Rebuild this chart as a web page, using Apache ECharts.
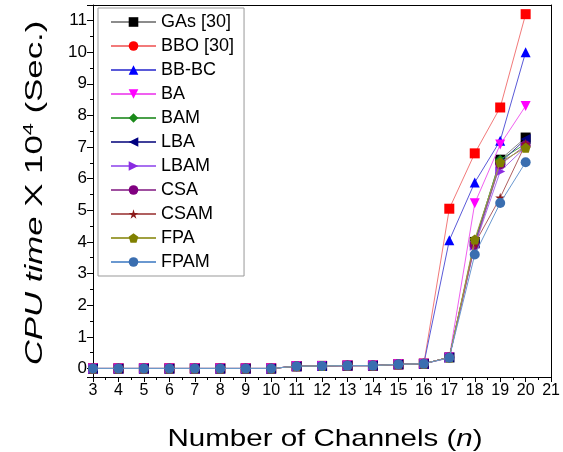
<!DOCTYPE html>
<html><head><meta charset="utf-8">
<script src="https://cdn.jsdelivr.net/npm/echarts@6/dist/echarts.min.js"></script>
<style>html,body{margin:0;padding:0;background:#fff}#c{width:563px;height:452px}</style>
</head><body><div id="c"></div>
<script>
const channels = [3,4,5,6,7,8,9,10,11,12,13,14,15,16,17,18,19,20];
const seriesNames = ['GAs [30]','BBO [30]','BB-BC','BA','BAM','LBA','LBAM','CSA','CSAM','FPA','FPAM'];
const GAs  = [0,0,0,0,0,0,0,0,0.07,0.08,0.09,0.09,0.13,0.15,0.35,4.00,6.60,7.30];
const BBO  = [0,0,0,0,0,0,0,0,0.07,0.08,0.09,0.09,0.13,0.15,5.05,6.80,8.25,11.20];
const BBBC = [0,0,0,0,0,0,0,0,0.07,0.08,0.09,0.09,0.13,0.15,4.05,5.88,7.20,10.00];
const BA   = [0,0,0,0,0,0,0,0,0.07,0.08,0.09,0.09,0.13,0.15,0.35,5.22,7.08,8.30];
const BAM  = [0,0,0,0,0,0,0,0,0.07,0.08,0.09,0.09,0.13,0.15,0.35,4.00,6.60,7.10];
const LBA  = [0,0,0,0,0,0,0,0,0.07,0.08,0.09,0.09,0.13,0.15,0.35,3.95,6.50,7.25];
const LBAM = [0,0,0,0,0,0,0,0,0.07,0.08,0.09,0.09,0.13,0.15,0.33,3.88,6.23,7.00];
const CSA  = [0,0,0,0,0,0,0,0,0.07,0.08,0.09,0.09,0.13,0.15,0.35,3.90,6.45,7.05];
const CSAM = [0,0,0,0,0,0,0,0,0.07,0.08,0.09,0.09,0.13,0.15,0.35,3.95,5.40,7.10];
const FPA  = [0,0,0,0,0,0,0,0,0.07,0.08,0.09,0.09,0.13,0.15,0.35,4.08,6.52,6.98];
const FPAM = [0,0,0,0,0,0,0,0,0.07,0.08,0.09,0.09,0.13,0.15,0.34,3.60,5.23,6.52];
const xTicks = [3,21];
const yRange = [-0.27, 11.49];

const STAR = 'path://M50,0 L61,35 L98,35 L68,57 L79,91 L50,70 L21,91 L32,57 L2,35 L39,35 Z';
const PENT = 'path://M50,0 L98,36 L80,95 L20,95 L2,36 Z';
const FONT = 'Liberation Sans, Arial, sans-serif';

const styles = [
  {sym:'rect', rot:0, c:'#000000', l:'#8c8c8c'},
  {sym:'circle', rot:0, c:'#ff0000', l:'#f27a7a', itemSym:'rect'},
  {sym:'triangle', rot:0, c:'#0000ff', l:'#5a5ad8'},
  {sym:'triangle', rot:180, c:'#ff00ff', l:'#f060f0'},
  {sym:'diamond', rot:0, c:'#1a8a1a', l:'#4aa04a'},
  {sym:'triangle', rot:90, c:'#000080', l:'#40409a'},
  {sym:'triangle', rot:-90, c:'#8a2be2', l:'#a870f0'},
  {sym:'circle', rot:0, c:'#800080', l:'#a050a0'},
  {sym:STAR, rot:0, c:'#8b1a1a', l:'#b06060'},
  {sym:PENT, rot:0, c:'#808000', l:'#a0a040'},
  {sym:'circle', rot:0, c:'#3a6eb0', l:'#6a98d0'}
];
const allData = [GAs,BBO,BBBC,BA,BAM,LBA,LBAM,CSA,CSAM,FPA,FPAM];

const series = seriesNames.map((name, i) => {
  const s = styles[i];
  return {
    name: name,
    type: 'line',
    symbol: s.sym,
    symbolRotate: s.rot,
    symbolSize: 10,
    showAllSymbol: true,
    z: 2 + i,
    itemStyle: {color: s.c},
    lineStyle: {color: s.l, width: 1},
    emphasis: {disabled: true},
    data: channels.map((x, k) => s.itemSym ? {value: [x, allData[i][k]], symbol: s.itemSym} : [x, allData[i][k]])
  };
});

const chart = echarts.init(document.getElementById('c'), null, {renderer: 'canvas'});
chart.setOption({
  animation: false,
  backgroundColor: '#fff',
  grid: {left: 93, right: 9, top: 5, bottom: 75, containLabel: false},
  xAxis: [{
    type: 'value', min: xTicks[0], max: xTicks[1], interval: 1,
    axisLine: {show: true, onZero: false, lineStyle: {color: '#000', width: 1}},
    axisTick: {show: true, length: 5, lineStyle: {color: '#000'}},
    minorTick: {show: true, splitNumber: 2, length: 3, lineStyle: {color: '#000'}},
    splitLine: {show: false},
    axisLabel: {color: '#000', fontSize: 16, margin: 6, fontFamily: FONT}
  }, {
    type: 'value', position: 'top', min: xTicks[0], max: xTicks[1],
    axisLine: {show: true, onZero: false, lineStyle: {color: '#000', width: 1}},
    axisTick: {show: false}, axisLabel: {show: false}, splitLine: {show: false}
  }],
  yAxis: [{
    type: 'value', min: yRange[0], max: yRange[1], minInterval: 1, maxInterval: 1,
    axisLine: {show: true, onZero: false, lineStyle: {color: '#000', width: 1}},
    axisTick: {show: true, length: 6, lineStyle: {color: '#000'}},
    minorTick: {show: true, splitNumber: 2, length: 3, lineStyle: {color: '#000'}},
    splitLine: {show: false},
    axisLabel: {color: '#000', fontSize: 17, margin: 6, fontFamily: FONT,
      formatter: v => Math.abs(v - Math.round(v)) < 1e-6 ? String(Math.round(v)) : ''}
  }, {
    type: 'value', position: 'right', min: yRange[0], max: yRange[1],
    axisLine: {show: true, onZero: false, lineStyle: {color: '#000', width: 1}},
    axisTick: {show: false}, axisLabel: {show: false}, splitLine: {show: false}
  }],
  legend: {
    orient: 'vertical', left: 98, top: 8,
    itemWidth: 45, itemHeight: 12, itemGap: 6,
    padding: [5, 10, 5, 12],
    borderColor: '#999', borderWidth: 1,
    textStyle: {fontSize: 18, color: '#000', lineHeight: 18, fontFamily: FONT},
    data: seriesNames
  },
  graphic: [
    {type: 'text', x: 325, y: 439, scaleX: 1.23,
      style: {text: '{a|Number of Channels (}{b|n}{a|)}', align: 'center', verticalAlign: 'middle',
        rich: {a: {fontSize: 24, fontFamily: FONT, fill: '#000'}, b: {fontSize: 24, fontFamily: FONT, fontStyle: 'italic', fill: '#000'}}}},
    {type: 'text', x: 35, y: 193, rotation: Math.PI / 2, scaleX: 1.45,
      style: {text: '{b|CPU time}{a| X 10}{s|4}{a| (Sec.)}', align: 'center', verticalAlign: 'middle',
        rich: {a: {fontSize: 24, fontFamily: FONT, fill: '#000', lineHeight: 28},
               b: {fontSize: 24, fontFamily: FONT, fontStyle: 'italic', fill: '#000', lineHeight: 28},
               s: {fontSize: 15, fontFamily: FONT, fill: '#000', verticalAlign: 'top', lineHeight: 28, padding: [0,0,8,0]}}}}
  ],
  series: series
});
</script></body></html>
